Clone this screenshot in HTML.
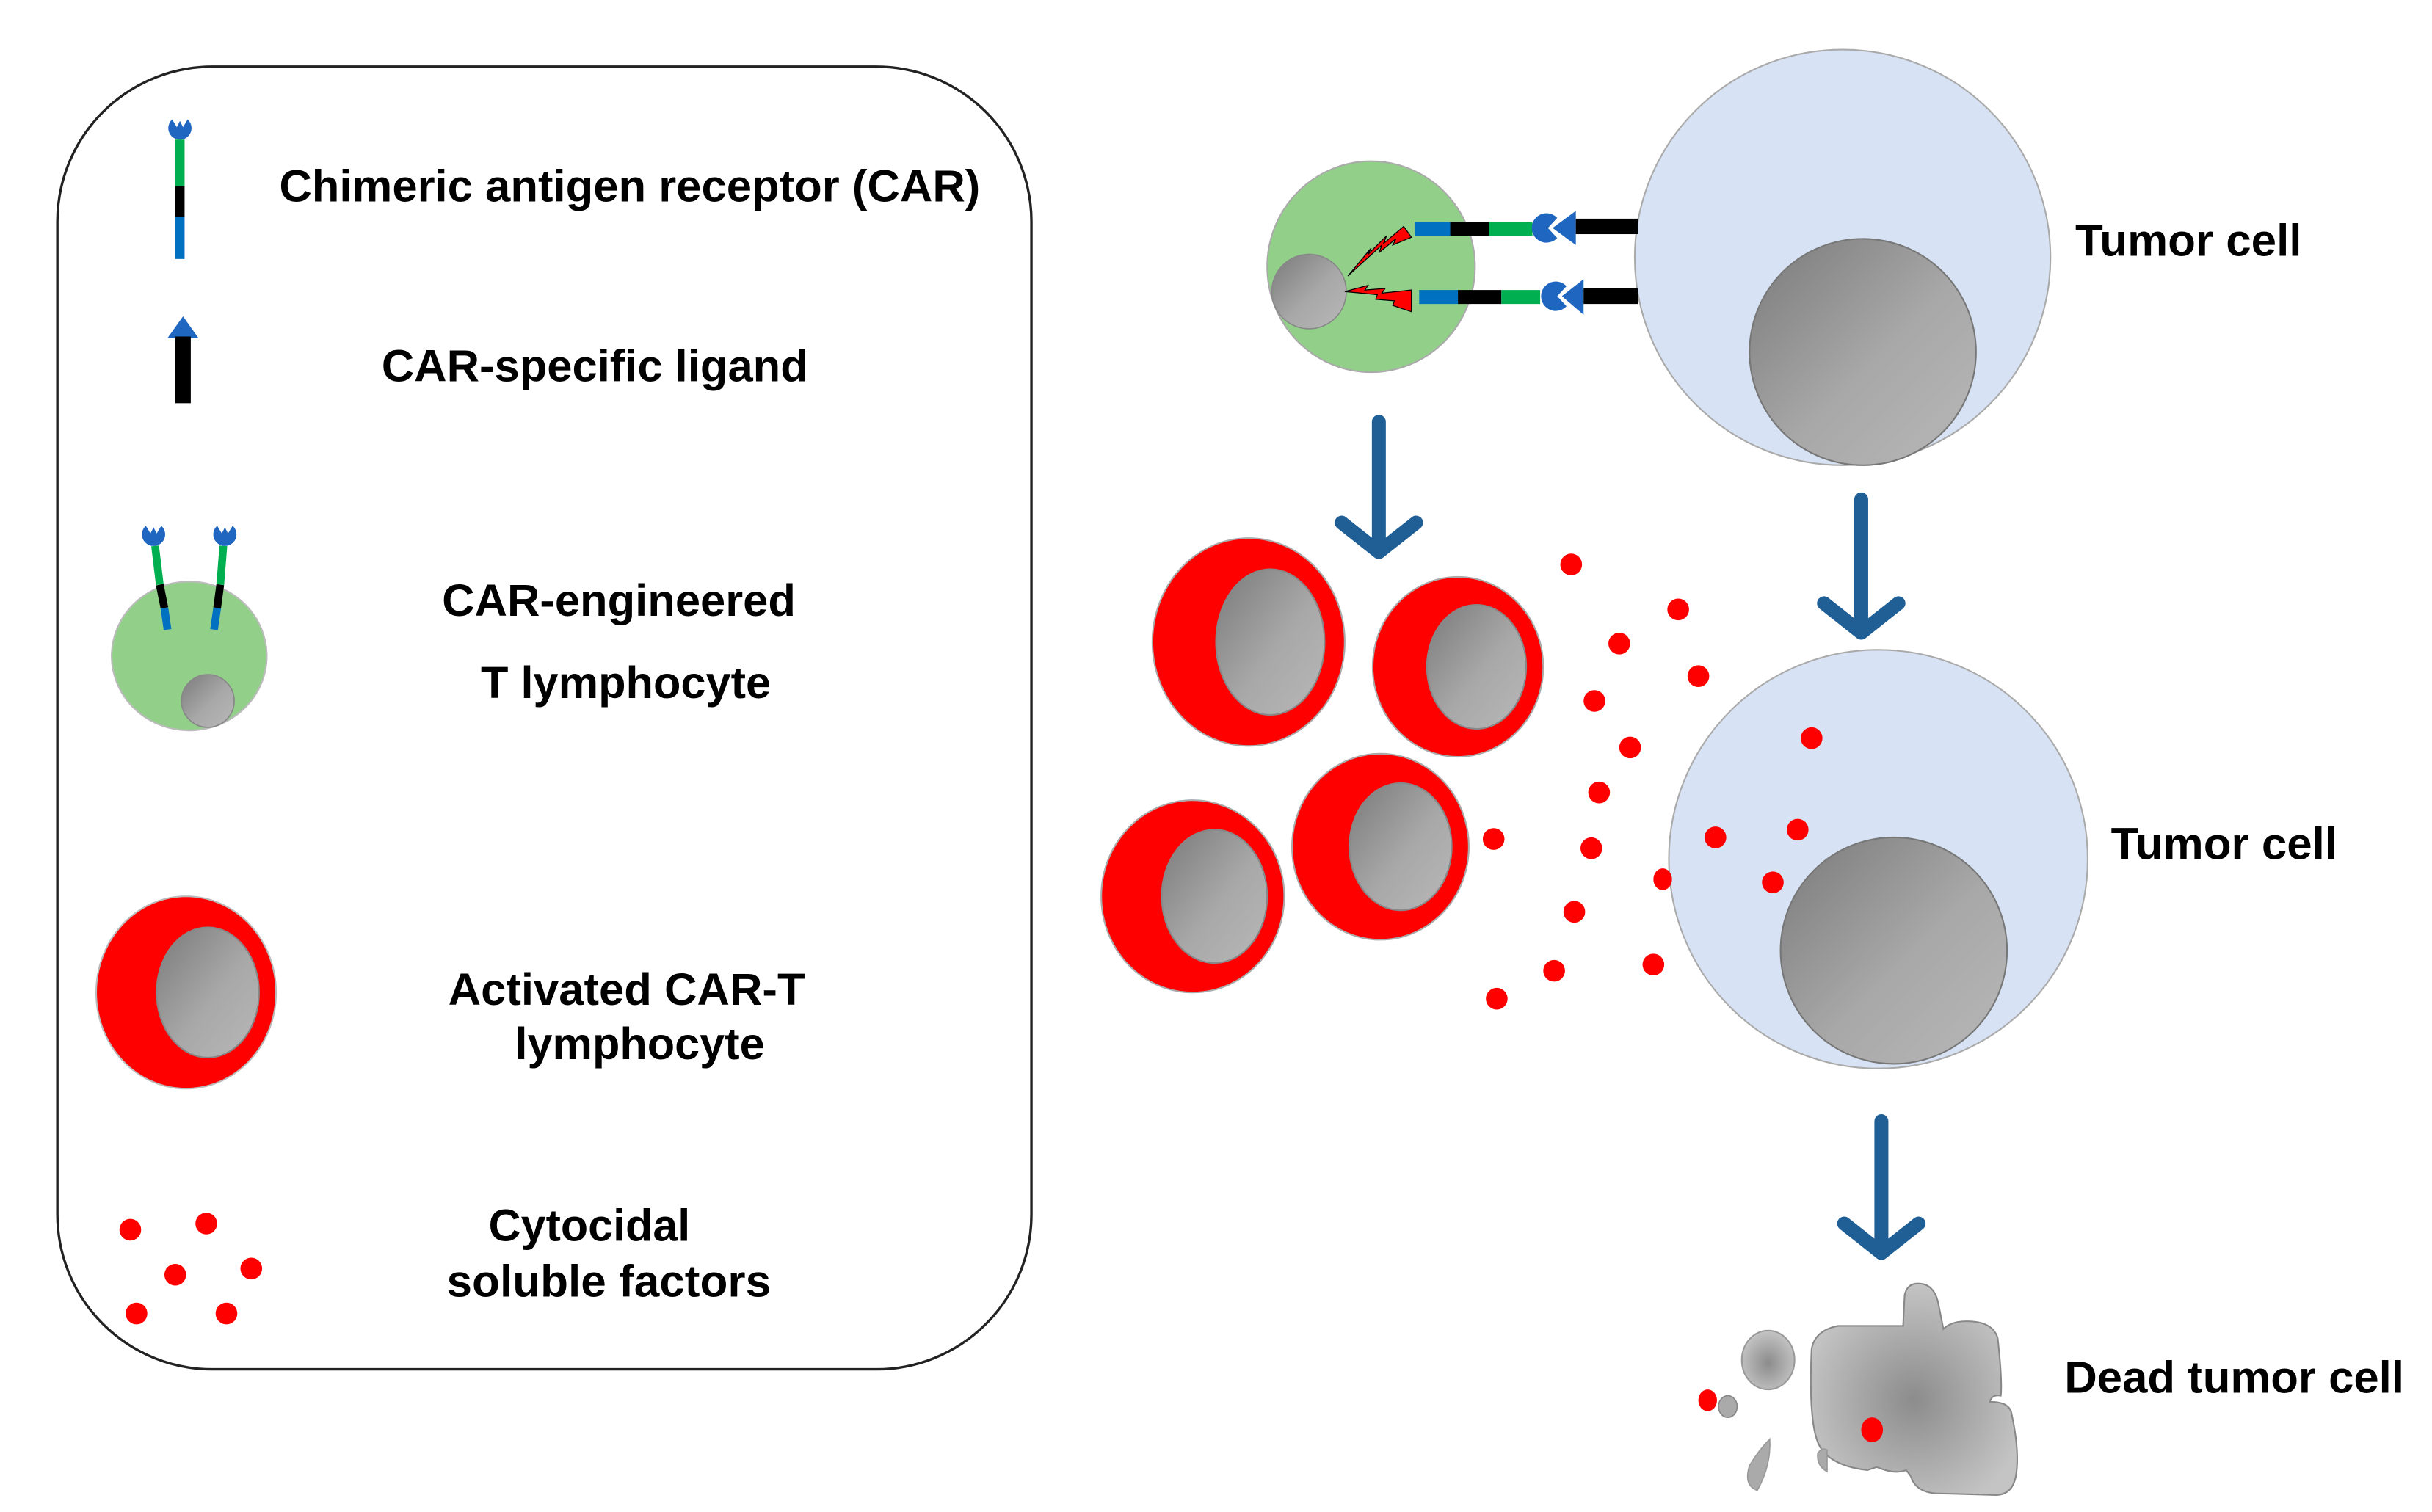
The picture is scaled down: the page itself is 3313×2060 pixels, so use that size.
<!DOCTYPE html>
<html><head><meta charset="utf-8"><style>
html,body{margin:0;padding:0;background:#fff;width:3313px;height:2060px;overflow:hidden}
svg{display:block}
text{font-family:"Liberation Sans",Arial,sans-serif;font-weight:bold;fill:#000}
</style></head><body>
<svg width="3313" height="2060" viewBox="0 0 1568 975" preserveAspectRatio="none" xmlns="http://www.w3.org/2000/svg">
<defs>
<linearGradient id="nuc" x1="0" y1="0" x2="1" y2="1">
<stop offset="0" stop-color="#7a7a7a"/><stop offset="0.55" stop-color="#a8a8a8"/><stop offset="1" stop-color="#b8b8b8"/></linearGradient>
<radialGradient id="dead" cx="0.5" cy="0.55" r="0.55">
<stop offset="0" stop-color="#8c8c8c"/><stop offset="1" stop-color="#c4c4c4"/></radialGradient>
<g id="cup"><path d="M-5,-7 A7.5,7.5 0 1 0 5,-7 L2,-2 L0,-6 L-2,-2 Z" fill="#1f66c0"/></g>
</defs>

<rect x="37" y="43" width="628" height="840" rx="100" ry="100" fill="#fff" stroke="#222" stroke-width="1.6"/>

<rect x="113" y="90" width="6" height="30" fill="#00b050"/>
<rect x="113" y="120" width="6" height="20" fill="#000"/>
<rect x="113" y="140" width="6" height="27" fill="#0070c0"/>
<use href="#cup" x="116" y="84"/>
<text x="180" y="130" font-size="29" textLength="452" lengthAdjust="spacingAndGlyphs">Chimeric antigen receptor (CAR)</text>

<polygon points="118,204 108,218 128,218" fill="#1f66c0"/>
<rect x="113" y="217" width="10" height="43" fill="#000"/>
<text x="246" y="246" font-size="29" textLength="275" lengthAdjust="spacingAndGlyphs">CAR-specific ligand</text>

<ellipse cx="122" cy="423" rx="50" ry="48" fill="#92d08a" stroke="#bbb" stroke-width="1"/>
<circle cx="134" cy="452" r="17" fill="url(#nuc)" stroke="#888" stroke-width="0.8"/>
<g stroke-width="5" fill="none">
<line x1="100" y1="352" x2="103" y2="377" stroke="#00b050"/><line x1="103" y1="377" x2="106" y2="392" stroke="#000"/><line x1="106" y1="392" x2="108" y2="406" stroke="#0070c0"/>
<line x1="144" y1="352" x2="142" y2="377" stroke="#00b050"/><line x1="142" y1="377" x2="140" y2="392" stroke="#000"/><line x1="140" y1="392" x2="138" y2="406" stroke="#0070c0"/>
</g>
<use href="#cup" x="99" y="346"/>
<use href="#cup" x="145" y="346"/>
<text x="285" y="397" font-size="29" textLength="228" lengthAdjust="spacingAndGlyphs">CAR-engineered</text>
<text x="310" y="450" font-size="29" textLength="187" lengthAdjust="spacingAndGlyphs">T lymphocyte</text>

<ellipse cx="120" cy="640" rx="58" ry="62" fill="#ff0000" stroke="#bbb" stroke-width="1"/>
<ellipse cx="134" cy="640" rx="33" ry="42" fill="url(#nuc)" stroke="#888" stroke-width="1"/>
<text x="289" y="648" font-size="29" textLength="230" lengthAdjust="spacingAndGlyphs">Activated CAR-T</text>
<text x="332" y="683" font-size="29" textLength="161" lengthAdjust="spacingAndGlyphs">lymphocyte</text>

<g fill="#ff0000">
<ellipse cx="84" cy="793" rx="7" ry="7"/><ellipse cx="133" cy="789" rx="7" ry="7"/><ellipse cx="113" cy="822" rx="7" ry="7"/><ellipse cx="162" cy="818" rx="7" ry="7"/><ellipse cx="88" cy="847" rx="7" ry="7"/><ellipse cx="146" cy="847" rx="7" ry="7"/>
</g>
<text x="315" y="800" font-size="29" textLength="130" lengthAdjust="spacingAndGlyphs">Cytocidal</text>
<text x="288" y="836" font-size="29" textLength="209" lengthAdjust="spacingAndGlyphs">soluble factors</text>

<circle cx="1188" cy="166" r="134" fill="#d7e3f4" stroke="#aaa" stroke-width="1"/>
<circle cx="1201" cy="227" r="73" fill="url(#nuc)" stroke="#777" stroke-width="1"/>
<text x="1338" y="165" font-size="29" textLength="146" lengthAdjust="spacingAndGlyphs">Tumor cell</text>

<ellipse cx="884" cy="172" rx="67" ry="68" fill="#92d08a" stroke="#aaa" stroke-width="1"/>
<ellipse cx="844" cy="188" rx="24" ry="24" fill="url(#nuc)" stroke="#888" stroke-width="0.8"/>
<rect x="912" y="143" width="23" height="9" fill="#0070c0"/><rect x="935" y="143" width="25" height="9" fill="#000"/><rect x="960" y="143" width="28" height="9" fill="#00b050"/>
<path d="M1004,140.5 A9.5,9.5 0 1 0 1004,153.5 L998,147 Z" fill="#1f66c0"/>
<polygon points="1001,147 1016,136 1016,158" fill="#1f66c0"/>
<rect x="1016" y="141" width="40" height="10" fill="#000"/>
<rect x="915" y="187" width="25" height="9" fill="#0070c0"/><rect x="940" y="187" width="28" height="9" fill="#000"/><rect x="968" y="187" width="25" height="9" fill="#00b050"/>
<path d="M1010,184.5 A9.5,9.5 0 1 0 1010,197.5 L1004,191 Z" fill="#1f66c0"/>
<polygon points="1007,191 1021,180 1021,203" fill="#1f66c0"/>
<rect x="1021" y="186" width="35" height="10" fill="#000"/>
<polygon points="869,178 884,160 882,164 894,152 892,157 905,146 910,153 898,158 900,154 889,163 891,158" fill="#ff0000" stroke="#000" stroke-width="0.6"/>
<polygon points="867,188 882,184 880,187 893,186 891,189 910,187 910,201 898,197 899,194 887,193 888,190" fill="#ff0000" stroke="#000" stroke-width="0.6"/>

<g stroke="#1f5f96" stroke-width="9" stroke-linecap="round" stroke-linejoin="round" fill="none">
<line x1="889" y1="272" x2="889" y2="354"/><polyline points="865,337 889,356 913,337"/>
<line x1="1200" y1="322" x2="1200" y2="406"/><polyline points="1176,389 1200,408 1224,389"/>
<line x1="1213" y1="723" x2="1213" y2="807"/><polyline points="1189,789 1213,808 1237,789"/>
</g>

<g stroke="#aaa" stroke-width="1">
<ellipse cx="805" cy="414" rx="62" ry="67" fill="#ff0000"/><ellipse cx="819" cy="414" rx="35" ry="47" fill="url(#nuc)" stroke="#888"/>
<ellipse cx="940" cy="430" rx="55" ry="58" fill="#ff0000"/><ellipse cx="952" cy="430" rx="32" ry="40" fill="url(#nuc)" stroke="#888"/>
<ellipse cx="769" cy="578" rx="59" ry="62" fill="#ff0000"/><ellipse cx="783" cy="578" rx="34" ry="43" fill="url(#nuc)" stroke="#888"/>
<ellipse cx="890" cy="546" rx="57" ry="60" fill="#ff0000"/><ellipse cx="903" cy="546" rx="33" ry="41" fill="url(#nuc)" stroke="#888"/>
</g>

<circle cx="1211" cy="554" r="135" fill="#d7e3f4" stroke="#aaa" stroke-width="1"/>
<circle cx="1221" cy="613" r="73" fill="url(#nuc)" stroke="#777" stroke-width="1"/>
<text x="1361" y="554" font-size="29" textLength="146" lengthAdjust="spacingAndGlyphs">Tumor cell</text>

<g fill="#ff0000">
<ellipse cx="1013" cy="364" rx="7" ry="7"/><ellipse cx="1082" cy="393" rx="7" ry="7"/><ellipse cx="1044" cy="415" rx="7" ry="7"/><ellipse cx="1095" cy="436" rx="7" ry="7"/><ellipse cx="1028" cy="452" rx="7" ry="7"/><ellipse cx="1051" cy="482" rx="7" ry="7"/><ellipse cx="1031" cy="511" rx="7" ry="7"/><ellipse cx="963" cy="541" rx="7" ry="7"/><ellipse cx="1026" cy="547" rx="7" ry="7"/><ellipse cx="1072" cy="567" rx="6" ry="7"/><ellipse cx="1015" cy="588" rx="7" ry="7"/><ellipse cx="1002" cy="626" rx="7" ry="7"/><ellipse cx="1066" cy="622" rx="7" ry="7"/><ellipse cx="965" cy="644" rx="7" ry="7"/>
<ellipse cx="1168" cy="476" rx="7" ry="7"/><ellipse cx="1106" cy="540" rx="7" ry="7"/><ellipse cx="1159" cy="535" rx="7" ry="7"/><ellipse cx="1143" cy="569" rx="7" ry="7"/>
</g>

<path d="M1228,835 Q1230,826 1240,828 Q1248,830 1250,842 L1253,857 Q1258,852 1268,852 Q1285,852 1288,863 Q1291,890 1290,900 Q1284,899 1283,904 Q1296,904 1297,912 Q1302,935 1300,950 Q1298,965 1285,964 L1248,963 Q1235,962 1232,952 L1229,948 Q1222,951 1210,946 L1204,948 Q1178,945 1172,930 Q1166,915 1168,870 Q1170,858 1185,855 L1227,855 Z" fill="url(#dead)" stroke="#888" stroke-width="1"/>
<ellipse cx="1140" cy="877" rx="17" ry="19" fill="url(#dead)" stroke="#999" stroke-width="1"/>
<ellipse cx="1114" cy="907" rx="6" ry="7" fill="#aaa" stroke="#888" stroke-width="0.8"/>
<ellipse cx="1101" cy="903" rx="6" ry="7" fill="#ff0000"/>
<ellipse cx="1207" cy="922" rx="7" ry="8" fill="#ff0000"/>
<path d="M1133,961 Q1124,958 1128,945 Q1134,935 1141,928 Q1142,945 1133,961 Z" fill="#aaa" stroke="#999" stroke-width="0.8"/>
<path d="M1178,949 Q1171,945 1172,937 Q1175,933 1178,935 Z" fill="#aaa" stroke="#999" stroke-width="0.8"/>
<text x="1331" y="898" font-size="29" textLength="219" lengthAdjust="spacingAndGlyphs">Dead tumor cell</text>
</svg>
</body></html>
